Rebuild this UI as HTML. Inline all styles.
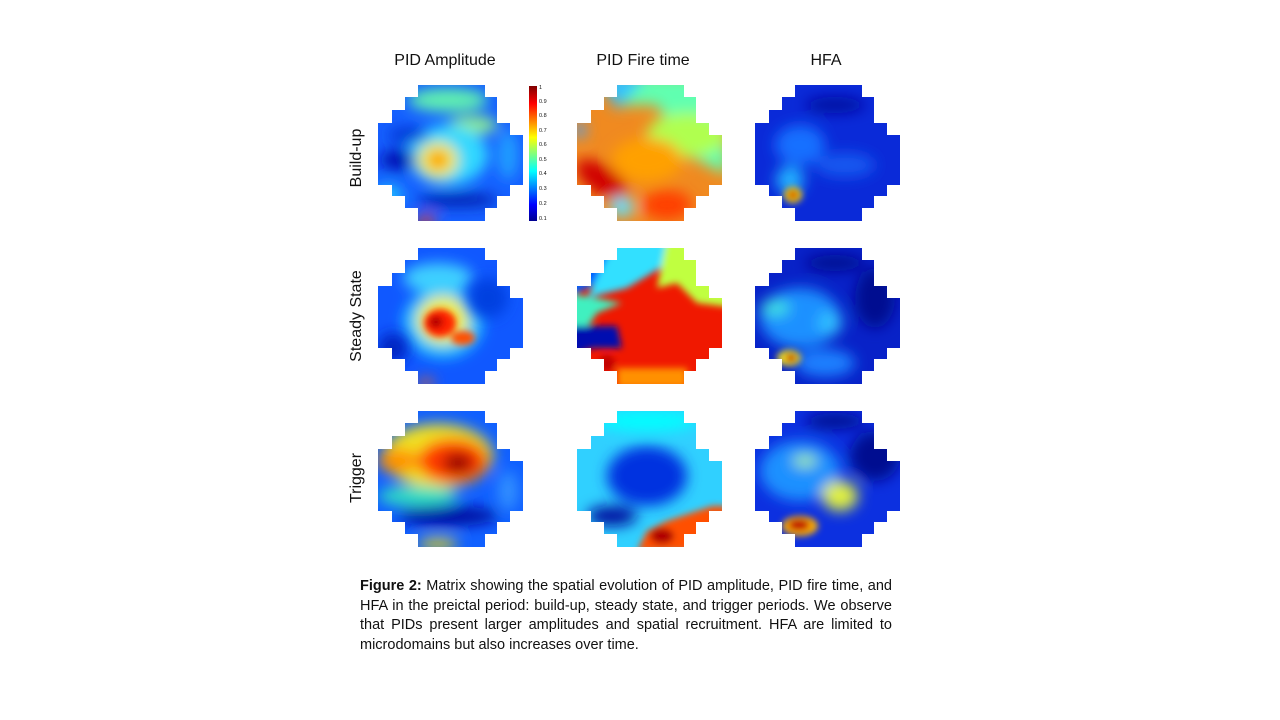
<!DOCTYPE html>
<html><head><meta charset="utf-8"><style>
html,body{margin:0;padding:0;background:#fff;}
body{width:1280px;height:720px;position:relative;overflow:hidden;font-family:"Liberation Sans",sans-serif;}
.cap{position:absolute;left:360px;top:577px;width:532px;font-size:14.5px;line-height:19.5px;color:#111;text-align:justify;font-family:"Liberation Sans",sans-serif;}
</style></head><body>
<svg width="1280" height="720" style="position:absolute;left:0;top:0">
<defs>
<clipPath id="m" clipPathUnits="userSpaceOnUse">
<path d="M40,0H107V12H119V38H132V50H145V100H132V111H119V123H107V136H40V123H27V111H14V100H0V38H14V25H27V12H40Z"/>
</clipPath>
<filter id="b" x="-50%" y="-50%" width="200%" height="200%"><feGaussianBlur stdDeviation="7"/></filter>
<filter id="s" x="-50%" y="-50%" width="200%" height="200%"><feGaussianBlur stdDeviation="3.5"/></filter>
<linearGradient id="jet" x1="0" y1="1" x2="0" y2="0">
<stop offset="0" stop-color="#00008f"/><stop offset="0.12" stop-color="#0000ff"/><stop offset="0.37" stop-color="#00ffff"/><stop offset="0.62" stop-color="#ffff00"/><stop offset="0.87" stop-color="#ff0000"/><stop offset="1" stop-color="#800000"/>
</linearGradient>
</defs>

<g font-size="16" fill="#111" text-anchor="middle">
<text x="445" y="65">PID Amplitude</text>
<text x="643" y="65">PID Fire time</text>
<text x="826" y="65">HFA</text>
<text transform="translate(361,158) rotate(-90)">Build-up</text>
<text transform="translate(361,316) rotate(-90)">Steady State</text>
<text transform="translate(361,478) rotate(-90)">Trigger</text>
</g>

<rect x="529" y="86" width="8" height="135" fill="url(#jet)"/>
<g font-size="5.5" fill="#111">
<text x="539" y="89">1</text><text x="539" y="103">0.9</text><text x="539" y="117">0.8</text><text x="539" y="132">0.7</text><text x="539" y="146">0.6</text><text x="539" y="161">0.5</text><text x="539" y="175">0.4</text><text x="539" y="190">0.3</text><text x="539" y="205">0.2</text><text x="539" y="220">0.1</text>
</g>

<!-- Row1 col1 -->
<g transform="translate(378,85)"><g clip-path="url(#m)">
<rect x="-10" y="-10" width="170" height="160" fill="#1560ff"/>
<g filter="url(#b)">
<ellipse cx="70" cy="15" rx="40" ry="12" fill="#60f0b0"/>
<ellipse cx="95" cy="40" rx="25" ry="9" fill="#90f090"/>
<ellipse cx="70" cy="70" rx="40" ry="30" fill="#30d8ff"/>
<ellipse cx="60" cy="75" rx="20" ry="18" fill="#f0f030"/>
<ellipse cx="60" cy="75" rx="10" ry="9" fill="#ff8c00"/>
<ellipse cx="20" cy="75" rx="18" ry="10" fill="#0010b0"/>
<ellipse cx="30" cy="50" rx="20" ry="7" fill="#0030d0"/>
<ellipse cx="80" cy="115" rx="40" ry="7" fill="#0020b0"/>
<ellipse cx="10" cy="110" rx="15" ry="10" fill="#20c0ff"/>
<ellipse cx="130" cy="70" rx="10" ry="25" fill="#20a0ff"/>
<ellipse cx="48" cy="136" rx="10" ry="5" fill="#ff3000"/>
</g></g></g>

<!-- Row1 col2 -->
<g transform="translate(577,85)"><g clip-path="url(#m)">
<rect x="-10" y="-10" width="170" height="160" fill="#f08a20"/>
<g filter="url(#b)">
<polygon points="20,-10 150,-10 150,90 110,70 80,20 40,20" fill="#60ffb0"/>
<polygon points="20,-10 70,-10 40,25" fill="#30c0ff"/>
<ellipse cx="110" cy="50" rx="40" ry="22" fill="#b0ff50"/>
<ellipse cx="70" cy="75" rx="35" ry="22" fill="#ffa000"/>
<ellipse cx="25" cy="95" rx="30" ry="14" fill="#d00000" transform="rotate(35 25 95)"/>
<ellipse cx="45" cy="122" rx="12" ry="10" fill="#60e0ff"/>
<ellipse cx="90" cy="120" rx="25" ry="15" fill="#ff4000"/>
<ellipse cx="3" cy="45" rx="6" ry="8" fill="#40a0ff"/>
</g></g></g>

<!-- Row1 col3 -->
<g transform="translate(755,85)"><g clip-path="url(#m)">
<rect x="-10" y="-10" width="170" height="160" fill="#0a2ad8"/>
<g filter="url(#b)">
<ellipse cx="45" cy="60" rx="25" ry="20" fill="#1870ff"/>
<ellipse cx="90" cy="80" rx="30" ry="12" fill="#1858f0"/>
<ellipse cx="80" cy="20" rx="30" ry="8" fill="#0010a0"/>
<ellipse cx="35" cy="95" rx="14" ry="14" fill="#20b0ff"/>
</g>
<g filter="url(#s)">
<ellipse cx="38" cy="110" rx="9" ry="8" fill="#ffd000"/>
<ellipse cx="38" cy="110" rx="5" ry="4" fill="#c00000"/>
</g></g></g>

<!-- Row2 col1 -->
<g transform="translate(378,248)"><g clip-path="url(#m)">
<rect x="-10" y="-10" width="170" height="160" fill="#1058ff"/>
<g filter="url(#b)">
<ellipse cx="60" cy="30" rx="35" ry="15" fill="#40d0ff"/>
<ellipse cx="65" cy="75" rx="40" ry="35" fill="#20c8ff"/>
<ellipse cx="65" cy="72" rx="26" ry="24" fill="#f0f040"/>
</g>
<g filter="url(#s)">
<ellipse cx="62" cy="75" rx="16" ry="14" fill="#ff2000"/>
<ellipse cx="85" cy="90" rx="12" ry="7" fill="#ff5000"/>
<ellipse cx="58" cy="74" rx="7" ry="6" fill="#b00000"/>
</g>
<g filter="url(#b)">
<ellipse cx="15" cy="100" rx="15" ry="15" fill="#0020c0"/>
<ellipse cx="110" cy="50" rx="20" ry="20" fill="#0040e0"/>
<ellipse cx="48" cy="135" rx="8" ry="4" fill="#ff6000"/>
</g></g></g>

<!-- Row2 col2 -->
<g transform="translate(577,248)"><g clip-path="url(#m)">
<rect x="-10" y="-10" width="170" height="160" fill="#f01800"/>
<g filter="url(#s)">
<polygon points="-10,-10 50,-10 50,20 0,45 -10,45" fill="#0060ff"/>
<polygon points="40,-10 100,-10 100,10 50,40 10,50" fill="#30e0ff"/>
<polygon points="90,-10 160,-10 160,60 120,55 100,35 80,40" fill="#c0ff40"/>
<polygon points="-10,45 45,55 20,65 10,80 -10,80" fill="#40f0c0"/>
<polygon points="-10,78 40,78 45,100 15,100 -10,110" fill="#0010b0"/>
<polygon points="40,120 110,120 110,140 40,140" fill="#ff9000"/>
<ellipse cx="30" cy="115" rx="8" ry="8" fill="#c00000"/>
</g></g></g>

<!-- Row2 col3 -->
<g transform="translate(755,248)"><g clip-path="url(#m)">
<rect x="-10" y="-10" width="170" height="160" fill="#0822c8"/>
<g filter="url(#b)">
<ellipse cx="45" cy="70" rx="40" ry="30" fill="#1a90ff"/>
<ellipse cx="20" cy="60" rx="15" ry="8" fill="#40e0e0"/>
<ellipse cx="75" cy="75" rx="12" ry="12" fill="#30c0ff"/>
<ellipse cx="70" cy="115" rx="30" ry="14" fill="#1a80ff"/>
<ellipse cx="120" cy="50" rx="20" ry="30" fill="#000a90"/>
<ellipse cx="80" cy="15" rx="30" ry="8" fill="#000a90"/>
</g>
<g filter="url(#s)">
<ellipse cx="34" cy="110" rx="12" ry="8" fill="#f0e020"/>
<ellipse cx="36" cy="110" rx="6" ry="4" fill="#c00000"/>
</g></g></g>

<!-- Row3 col1 -->
<g transform="translate(378,411)"><g clip-path="url(#m)">
<rect x="-10" y="-10" width="170" height="160" fill="#1060ff"/>
<g filter="url(#b)">
<ellipse cx="60" cy="45" rx="55" ry="32" fill="#f0e020"/>
<ellipse cx="75" cy="50" rx="35" ry="22" fill="#ff3a00"/>
<ellipse cx="80" cy="52" rx="15" ry="10" fill="#900000"/>
<ellipse cx="20" cy="50" rx="20" ry="12" fill="#ff9000"/>
<ellipse cx="40" cy="85" rx="40" ry="10" fill="#30e0c0"/>
<ellipse cx="70" cy="105" rx="50" ry="10" fill="#0010a0"/>
<ellipse cx="130" cy="80" rx="10" ry="20" fill="#3090ff"/>
<ellipse cx="60" cy="133" rx="20" ry="5" fill="#ffe000"/>
</g></g></g>

<!-- Row3 col2 -->
<g transform="translate(577,411)"><g clip-path="url(#m)">
<rect x="-10" y="-10" width="170" height="160" fill="#30d0ff"/>
<g filter="url(#b)">
<ellipse cx="70" cy="10" rx="50" ry="10" fill="#00ffff"/>
<ellipse cx="70" cy="65" rx="40" ry="30" fill="#0030e0"/>
<ellipse cx="35" cy="105" rx="25" ry="10" fill="#0010a0"/>
</g>
<g filter="url(#s)">
<polygon points="135,95 150,95 150,140 60,140 70,120 90,110" fill="#ff5000"/>
<ellipse cx="85" cy="125" rx="12" ry="8" fill="#b00000"/>
</g></g></g>

<!-- Row3 col3 -->
<g transform="translate(755,411)"><g clip-path="url(#m)">
<rect x="-10" y="-10" width="170" height="160" fill="#0c30e0"/>
<g filter="url(#b)">
<ellipse cx="45" cy="60" rx="40" ry="30" fill="#1a90ff"/>
<ellipse cx="50" cy="50" rx="12" ry="6" fill="#a0f0a0"/>
<ellipse cx="85" cy="85" rx="18" ry="15" fill="#e0f040"/>
<ellipse cx="120" cy="45" rx="25" ry="25" fill="#000a90"/>
<ellipse cx="80" cy="10" rx="30" ry="8" fill="#000a90"/>
</g>
<g filter="url(#s)">
<ellipse cx="45" cy="115" rx="18" ry="10" fill="#ffb000"/>
<ellipse cx="44" cy="114" rx="11" ry="6" fill="#c00000"/>
</g></g></g>
</svg>
<div class="cap"><b>Figure 2:</b> Matrix showing the spatial evolution of PID amplitude, PID fire time, and HFA in the preictal period: build-up, steady state, and trigger periods. We observe that PIDs present larger amplitudes and spatial recruitment. HFA are limited to microdomains but also increases over time.</div>
</body></html>
